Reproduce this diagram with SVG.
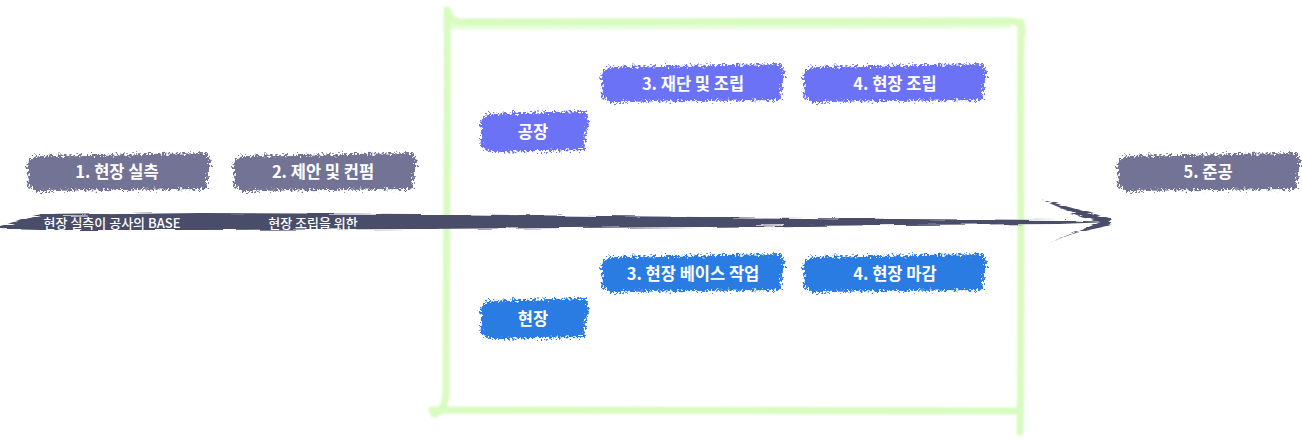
<svg xmlns="http://www.w3.org/2000/svg" width="1302" height="440" viewBox="0 0 1302 440">
<style>
.lbl{font-family:"Noto Sans CJK KR","Noto Sans",sans-serif;font-weight:700;font-size:16.5px;fill:#ffffff;text-anchor:middle;dominant-baseline:central}
.elbl{font-family:"Noto Sans CJK KR","Noto Sans",sans-serif;font-weight:500;font-size:13px;fill:#ffffff;text-anchor:middle}
.gray{fill:#737396}
.purple{fill:#6c72f6}
.blue{fill:#2a7be2}
.frame{fill:none;stroke:#d8fbbf;stroke-width:7;stroke-linecap:round;stroke-linejoin:round}
.ink{fill:#4a4d69}
</style>
<defs>
<filter id="rough" x="-10%" y="-40%" width="120%" height="180%">
<feTurbulence type="fractalNoise" baseFrequency="0.45" numOctaves="3" seed="4" result="n"/>
<feDisplacementMap in="SourceGraphic" in2="n" scale="10" xChannelSelector="R" yChannelSelector="G"/>
</filter>
<filter id="soft" x="-5%" y="-5%" width="110%" height="110%">
<feGaussianBlur stdDeviation="1.3"/>
</filter>
<filter id="brushline" x="-2%" y="-80%" width="104%" height="260%">
<feTurbulence type="fractalNoise" baseFrequency="0.02 0.5" numOctaves="2" seed="7" result="n"/>
<feDisplacementMap in="SourceGraphic" in2="n" scale="5" xChannelSelector="R" yChannelSelector="G"/>
</filter>
<clipPath id="band"><rect x="0" y="217" width="1100" height="14"/></clipPath>
<path id="brush" d="M10 4 L182 1 L186 10 L183 22 L181 37 L12 39 L2 34 L4 22 L1 12 Z"/>
<path id="brushS" d="M8 4 L106 1 L110 10 L107 24 L105 40 L10 42 L1 36 L3 22 L0 12 Z"/>
</defs>

<g id="frame" filter="url(#soft)">
<path class="frame" d="M447 10 C448 120 446 280 446 392 Q445 412 434 414"/>
<path class="frame" d="M449 14 Q452 24 470 22 L1010 21 Q1024 22 1022 34"/>
<path class="frame" d="M1021 22 C1020 140 1022 300 1020 432"/>
<path class="frame" d="M432 410 L1020 411"/>
<path class="frame" d="M452 26 L1008 25" opacity="0.6"/>
</g>

<g id="connectors">
<g filter="url(#brushline)">
<polygon class="ink" points="0,226 40,215 200,213 420,214 700,217 900,219 1060,220 1110,222 1060,224 900,225 700,227 420,229 200,230 40,230 0,229"/>
<polygon class="ink" points="1040,199 1112,219 1106,224 1070,212"/>
<polygon class="ink" points="1048,243 1106,220 1112,225 1075,233"/>
</g>
<g clip-path="url(#band)">
<text class="elbl" x="112" y="228">현장 실측이 공사의 BASE</text>
<text class="elbl" x="313" y="228">현장 조립을 위한</text>
</g>
</g>

<g id="n1"><use href="#brush" class="gray" x="25" y="152" filter="url(#rough)"/><text class="lbl" x="117" y="171">1. 현장 실측</text></g>
<g id="n2"><use href="#brush" class="gray" x="231" y="152" filter="url(#rough)"/><text class="lbl" x="323" y="171">2. 제안 및 컨펌</text></g>
<g id="factory"><use href="#brushS" class="purple" x="479" y="110" filter="url(#rough)"/><text class="lbl" x="533" y="131">공장</text></g>
<g id="n3a"><use href="#brush" class="purple" x="599" y="63" filter="url(#rough)"/><text class="lbl" x="693" y="83">3. 재단 및 조립</text></g>
<g id="n4a"><use href="#brush" class="purple" x="801" y="63" filter="url(#rough)"/><text class="lbl" x="895" y="83">4. 현장 조립</text></g>
<g id="site"><use href="#brushS" class="blue" x="479" y="297" filter="url(#rough)"/><text class="lbl" x="533" y="318">현장</text></g>
<g id="n3b"><use href="#brush" class="blue" x="599" y="253" filter="url(#rough)"/><text class="lbl" x="693" y="273">3. 현장 베이스 작업</text></g>
<g id="n4b"><use href="#brush" class="blue" x="801" y="253" filter="url(#rough)"/><text class="lbl" x="895" y="273">4. 현장 마감</text></g>
<g id="n5"><use href="#brush" class="gray" x="1115" y="152" filter="url(#rough)"/><text class="lbl" x="1208" y="171">5. 준공</text></g>
</svg>
